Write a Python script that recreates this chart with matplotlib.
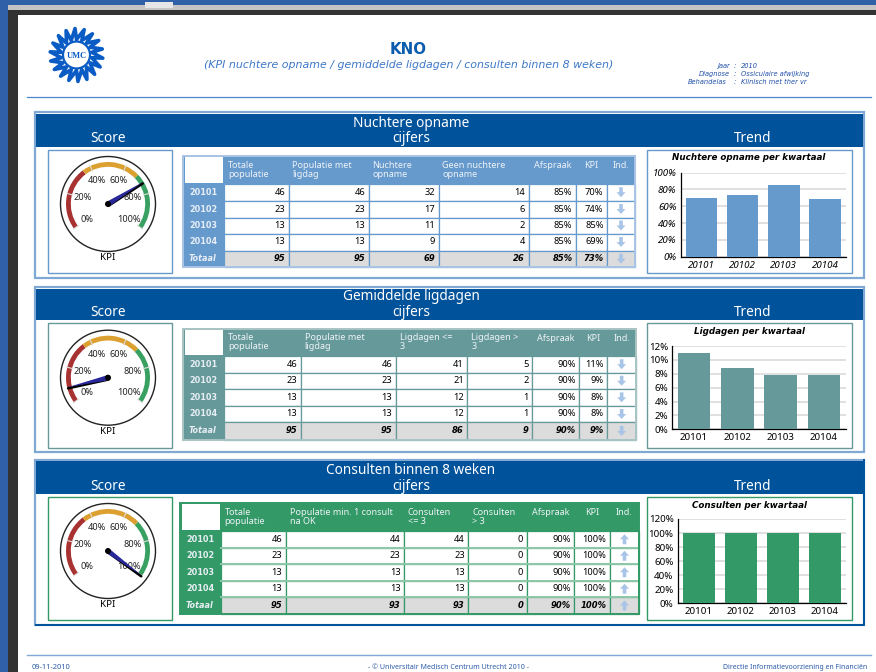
# -*- coding: utf-8 -*-
import numpy as np
import matplotlib
matplotlib.use('Agg')
import matplotlib.pyplot as plt
from matplotlib.patches import Rectangle, Circle, Wedge, Polygon

W, H = 876, 672

# %% data
quarters = ['20101', '20102', '20103', '20104']
row_labels = quarters + ['Totaal']

headers1 = ['Totale\npopulatie', 'Populatie met\nligdag', 'Nuchtere\nopname', 'Geen nuchtere\nopname',
            'Afspraak', 'KPI', 'Ind.']
totale1 = ['46', '23', '13', '13', '95']
populatie1 = ['46', '23', '13', '13', '95']
nuchter1 = ['32', '17', '11', '9', '69']
geen1 = ['14', '6', '2', '4', '26']
afspraak1 = ['85%', '85%', '85%', '85%', '85%']
kpi1 = ['70%', '74%', '85%', '69%', '73%']
ind1 = ['down', 'down', 'down', 'down', 'down']
bars1 = [70, 74, 85, 69]
gauge1 = 73

headers2 = ['Totale\npopulatie', 'Populatie met\nligdag', 'Ligdagen <=\n3', 'Ligdagen >\n3',
            'Afspraak', 'KPI', 'Ind.']
totale2 = ['46', '23', '13', '13', '95']
populatie2 = ['46', '23', '13', '13', '95']
lig_kort = ['41', '21', '12', '12', '86']
lig_lang = ['5', '2', '1', '1', '9']
afspraak2 = ['90%', '90%', '90%', '90%', '90%']
kpi2 = ['11%', '9%', '8%', '8%', '9%']
ind2 = ['down', 'down', 'down', 'down', 'down']
bars2 = [11, 8.8, 7.8, 7.8]
gauge2 = 9

headers3 = ['Totale\npopulatie', 'Populatie min. 1 consult\nna OK', 'Consulten\n<= 3', 'Consulten\n> 3',
            'Afspraak', 'KPI', 'Ind.']
totale3 = ['46', '23', '13', '13', '95']
populatie3 = ['44', '23', '13', '13', '93']
cons_kort = ['44', '23', '13', '13', '93']
cons_lang = ['0', '0', '0', '0', '0']
afspraak3 = ['90%', '90%', '90%', '90%', '90%']
kpi3 = ['100%', '100%', '100%', '100%', '100%']
ind3 = ['up', 'up', 'up', 'up', 'up']
bars3 = [100, 100, 100, 100]
gauge3 = 100

gauge_ticks = [0, 20, 40, 60, 80, 100]

# %% styling
NAVY = '#00529b'
BLUE = '#6699cc'
TEAL = '#669999'
GREEN = '#339966'
SANS = ['Noto Sans', 'DejaVu Sans']
BOLD = 'DejaVu Sans'
LIGHT = {BLUE: '#a9c5e4', TEAL: '#a9c4c4', GREEN: '#8ec8a8'}

fig = plt.figure(figsize=(W/100, H/100), dpi=100, facecolor='white')
ax = fig.add_axes([0, 0, 1, 1])
ax.set_xlim(0, W)
ax.set_ylim(H, 0)
ax.axis('off')


def rect(x0, y0, x1, y1, fc='none', ec='none', lw=0, z=1):
    ax.add_patch(Rectangle((x0, y0), x1-x0, y1-y0, facecolor=fc, edgecolor=ec, linewidth=lw, zorder=z))


def txt(x, y, s, size=6.5, color='black', ha='left', va='center', weight='normal', style='normal', fam=SANS, z=6):
    ax.text(x, y, s, fontsize=size, color=color, ha=ha, va=va, weight=weight, style=style,
            family=fam, zorder=z, linespacing=1.0)


def val_angle(v):
    return np.radians(216 - 252*v/100)


def draw_gauge(cx, cy, value):
    ax.add_patch(Circle((cx, cy), 47.5, facecolor='white', edgecolor='#222222', linewidth=1.0, zorder=3.5))
    for a0, a1, c in [(127, 216, '#a83232'), (44, 127, '#dca030'), (-36, 44, '#38a060')]:
        ax.add_patch(Wedge((cx, cy), 42, -a1, -a0, width=4.8, facecolor=c, edgecolor='none', zorder=4))
    for t in gauge_ticks:
        a = val_angle(t)
        ax.plot([cx+36.5*np.cos(a), cx+42.5*np.cos(a)], [cy-36.5*np.sin(a), cy-42.5*np.sin(a)],
                color='#dddddd', lw=0.8, zorder=5)
        txt(cx+26*np.cos(a), cy-26*np.sin(a), f'{t}%', size=6.6, color='#222222', ha='center')
    a = val_angle(value)
    tx, ty = cx+41*np.cos(a), cy-41*np.sin(a)
    nx, ny = np.sin(a), np.cos(a)
    ax.plot([cx+0.5, tx], [cy+1.8, ty+1.2], color='black', lw=1.8, zorder=7, solid_capstyle='round')
    ax.add_patch(Polygon([(cx-2.6*nx, cy-2.6*ny), (cx+2.6*nx, cy+2.6*ny), (tx, ty)], facecolor='#28289a',
                         edgecolor='none', zorder=8))
    ax.add_patch(Circle((cx, cy), 3, facecolor='black', edgecolor='none', zorder=9))
    txt(cx, cy+53.5, 'KPI', size=7, ha='center')


def draw_arrow(x, y, direction):
    s = 1 if direction == 'down' else -1
    pts = [(x-1.8, y-5*s), (x+1.8, y-5*s), (x+1.8, y), (x+4.5, y), (x, y+5*s), (x-4.5, y), (x-1.8, y)]
    ax.add_patch(Polygon(pts, facecolor='#a8c4e6', edgecolor='none', zorder=6))


def draw_table(xs, ys, color, headers, columns, hsize=6.5):
    # header band and row label column
    rect(xs[0], ys[0], xs[-1], ys[1], fc=color, z=2)
    rect(xs[0], ys[0], xs[1], ys[-1], fc=color, z=2)
    rect(xs[0]+2, ys[0]+1, xs[1]-1, ys[1]-1, fc='white', z=3)
    for i in range(1, len(ys)-1):
        fc = '#dcdcdc' if i == len(ys)-2 else 'white'
        for j in range(1, len(xs)-1):
            rect(xs[j], ys[i], xs[j+1], ys[i+1], fc=fc, ec=color, lw=0.9, z=3)
    if color == GREEN:
        for y in ys[2:]:
            ax.plot([xs[1], xs[-1]], [y, y], color=LIGHT[color], lw=1.4, zorder=4)
    rect(xs[0], ys[0], xs[-1], ys[-1], ec=LIGHT[color] if color != GREEN else color, lw=1.4, z=5)
    for j, h in enumerate(headers):
        # short headers are centred on one line, the others wrap at the left
        if '\n' in h:
            txt(xs[j+1]+4, (ys[0]+ys[1])/2, h, size=hsize, color='#eef3f8', weight='medium')
        else:
            txt((xs[j+1]+xs[j+2])/2, ys[0]+10, h, size=hsize, color='#eef3f8', ha='center', weight='medium')
    for i, lab in enumerate(row_labels):
        ym = (ys[i+1]+ys[i+2])/2
        last = i == len(row_labels)-1
        txt(xs[0]+6, ym, lab, size=5.9, color='#e8eef5', weight='bold', style='italic' if last else 'normal', fam=BOLD)
        for j, col in enumerate(columns):
            if col[i] in ('down', 'up'):
                draw_arrow((xs[j+1]+xs[j+2])/2, ym, col[i])
            elif last:
                txt(xs[j+2]-3.5, ym, col[i], size=6.0, ha='right', weight='bold', style='italic', fam=BOLD)
            else:
                txt(xs[j+2]-3.5, ym, col[i], size=6.7, ha='right')


def draw_bars(box, plot, color, title, values, ymax, italic):
    x0, y0, x1, y1 = plot
    sub = fig.add_axes([x0/W, 1-y1/H, (x1-x0)/W, (y1-y0)/H])
    sub.set_zorder(10)
    sub.patch.set_alpha(0)
    pos = np.arange(len(values))
    sub.bar(pos, values, width=0.76, color=color, zorder=3)
    sub.set_xlim(-0.5, len(values)-0.5)
    sub.set_ylim(0, ymax)
    step = 20 if ymax > 20 else 2
    ticks = np.arange(0, ymax+1, step)
    sub.set_yticks(ticks)
    st = 'italic' if italic else 'normal'
    sub.set_yticklabels([f'{t}%' for t in ticks], fontsize=7, style=st, family=SANS)
    sub.set_xticks(pos)
    sub.set_xticklabels(quarters, fontsize=7, style=st, family=SANS)
    sub.tick_params(length=0, pad=3)
    sub.grid(axis='y', color='#e0e0e0', lw=1.4, zorder=0)
    sub.set_axisbelow(True)
    for s in ['top', 'right']:
        sub.spines[s].set_visible(False)
    for s in ['left', 'bottom']:
        sub.spines[s].set_linewidth(0.9)
    txt((box[0]+box[2])/2, box[1]+8.5, title, size=6.3, weight='bold', style='italic', ha='center', fam=BOLD)


def draw_panel(y0, y1, head_y1, title, color, gbox, cy, gval, dark_bottom=False):
    rect(35, y0, 864, y1, fc='white', ec='#7fa8d4', lw=1.6, z=1)
    rect(36, y0+1.5, 863, head_y1, fc=NAVY, z=2)
    if dark_bottom:
        ax.plot([36, 864, 864], [y1, y1, y0], color=NAVY, lw=1.4, zorder=2)
    txt(411, head_y1-23, title, size=9.8, color='white', ha='center', z=3)
    txt(411, head_y1-7.5, 'cijfers', size=9.8, color='white', ha='center', z=3)
    txt(108, head_y1-7.5, 'Score', size=9.8, color='white', ha='center', z=3)
    txt(753, head_y1-7.5, 'Trend', size=9.8, color='white', ha='center', z=3)
    rect(48, gbox[0], 171.5, gbox[1], fc='white', ec=color, lw=1.0, z=3)
    rect(646.5, gbox[0], 851.5, gbox[1], fc='white', ec=color, lw=1.0, z=3)
    draw_gauge(108, cy, gval)


# %% window chrome around the page
rect(0, 0, W, 5, fc='#3060a8')
rect(0, 5, W, 10, fc='#c4c4c4')
rect(0, 10, W, 14.5, fc='#333333')
rect(0, 0, 8, H, fc='#3060a8')
rect(8, 10, 18, H, fc='#333333')
rect(145, 2, 173, 7.5, fc='#e6e6e6', z=2)

# %% page header, logo is a thick zigzag ring around a white hub
ang = np.linspace(0, 2*np.pi, 37)[:-1]
rad = np.where(np.arange(36) % 2 == 0, 26.5, 15.5)
twist = np.where(np.arange(36) % 2 == 0, 0.12, 0.0)
ax.add_patch(Polygon(np.c_[76.5+rad*np.cos(ang+twist), 55+rad*np.sin(ang+twist)], closed=True, facecolor='white',
                     edgecolor='#0a5cc4', linewidth=2.6, joinstyle='round', zorder=2))
ax.add_patch(Circle((76.5, 55), 13.5, facecolor='white', edgecolor='#0a5cc4', linewidth=1.6, zorder=3))
txt(76.5, 55.5, 'UMC', size=6, color='#0a5cc4', ha='center', weight='bold', fam='Liberation Serif')

txt(408, 50, 'KNO', size=10.8, color='#0a5cae', ha='center', weight='bold', fam=BOLD)
txt(408.5, 65, '(KPI nuchtere opname / gemiddelde ligdagen / consulten binnen 8 weken)', size=7.95,
    color='#3d78c8', ha='center', style='italic', fam=BOLD)
for y, a, b, c in [(66, 'Jaar', ':', '2010'), (74, 'Diagnose', ':', 'Ossiculaire afwijking'),
                   (82, 'Behandelas', ':', 'Klinisch met ther vr')]:
    txt(730 if a != 'Behandelas' else 727, y, a, size=4.8, color='#1f4fa8', ha='right', style='italic', fam=BOLD)
    txt(735, y, b, size=4.8, color='#1f4fa8', ha='center', style='italic', fam=BOLD)
    txt(741, y, c, size=4.8, color='#1f4fa8', style='italic', fam=BOLD)
ax.plot([27, 871], [96.5, 96.5], color='#4a86c8', lw=0.9)

# %% panel 1
draw_panel(112, 278, 146.5, 'Nuchtere opname', BLUE, (149.5, 273), 204, gauge1)
draw_table([183, 224, 288.5, 368.5, 438.5, 528.5, 576, 607, 635], [155.5, 184, 200.5, 217.5, 233.5, 250.5, 267],
           BLUE, headers1, [totale1, populatie1, nuchter1, geen1, afspraak1, kpi1, ind1])
draw_bars((646.5, 149.5, 851.5, 273), (680.7, 172.7, 845.7, 256.7), BLUE, 'Nuchtere opname per kwartaal', bars1, 100, True)

# %% panel 2
draw_panel(287, 452, 320, 'Gemiddelde ligdagen', TEAL, (323.3, 447.5), 377.7, gauge2)
draw_table([183, 224, 300.7, 395.7, 467.3, 532.3, 579.3, 607.3, 636], [328.5, 356, 372.5, 389, 405.7, 422.3, 439.5],
           TEAL, headers2, [totale2, populatie2, lig_kort, lig_lang, afspraak2, kpi2, ind2])
draw_bars((646.5, 323.3, 851.5, 447.5), (672.3, 346, 845.7, 429.3), TEAL, 'Ligdagen per kwartaal', bars2, 12, False)

# %% panel 3
draw_panel(459.5, 625, 494, 'Consulten binnen 8 weken', GREEN, (497, 620), 551, gauge3, dark_bottom=True)
draw_table([180, 220.7, 285.7, 404, 468.3, 526.7, 574.3, 610, 639], [502.5, 531, 547.5, 564, 580.5, 597, 614],
           GREEN, headers3, [totale3, populatie3, cons_kort, cons_lang, afspraak3, kpi3, ind3])
draw_bars((646.5, 497, 851.5, 620), (677.7, 519, 845.7, 603.3), GREEN, 'Consulten per kwartaal', bars3, 120, False)

# %% footer
ax.plot([27, 871], [655, 655], color='#7fa8d4', lw=1.0)
txt(32, 667.5, '09-11-2010', size=5.4, color='#2a5aa8')
txt(449, 667.5, '- © Universitair Medisch Centrum Utrecht 2010 -', size=5.1, color='#2a5aa8', ha='center')
txt(867, 667.5, 'Directie Informatievoorziening en Financiën', size=5.0, color='#2a5aa8', ha='right')

fig.savefig('out.png', dpi=100)
